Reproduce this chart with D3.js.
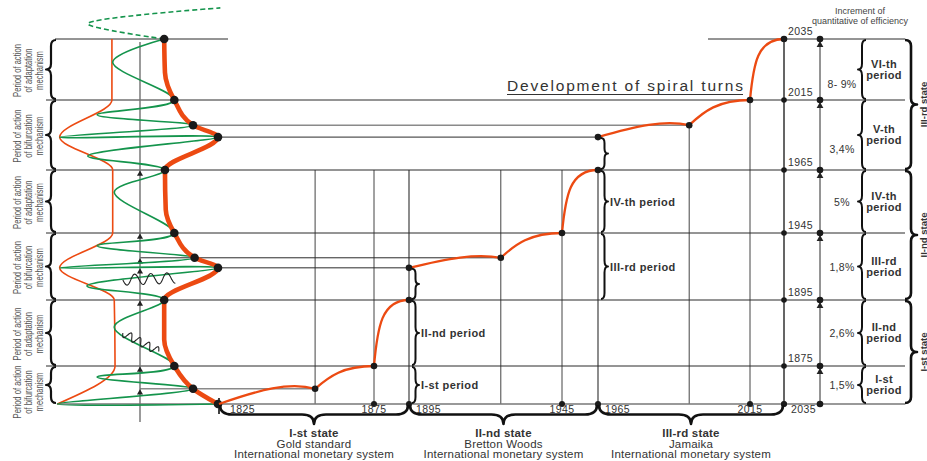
<!DOCTYPE html>
<html>
<head>
<meta charset="utf-8">
<script src="https://cdn.jsdelivr.net/npm/d3@7/dist/d3.min.js"></script>
<style>
  body { margin: 0; background: #fff; }
  svg { display: block; font-family: "Liberation Sans", Arial, sans-serif; }
</style>
</head>
<body>
<svg id="chart" width="927" height="461"></svg>
<script>
// ---------- data ----------
var years = [1825, 1875, 1895, 1945, 1965, 2015, 2035];          // bottom axis
var levelYears = [1825, 1875, 1895, 1945, 1965, 2015, 2035];     // right axis, level 0..6
var periodNames = ["I-st", "II-nd", "III-rd", "IV-th", "V-th", "VI-th"];
var increments = ["1,5%", "2,6%", "1,8%", "5%", "3,4%", "8- 9%"];
var mechanisms = ["bifurcation", "adaptation", "bifurcation", "adaptation", "bifurcation", "adaptation"];
var stateNames = ["I-st state", "II-nd state", "III-rd state"];
var stateSystems = ["Gold standard", "Bretton Woods", "Jamaika"];
var stateYears = [[1825, 1895], [1895, 1965], [1965, 2035]];
var stateLevels = [[0, 2], [2, 4], [4, 6]];

// spiral turns on the time grid: [year, level]
var turns = [
  [[1825, 0], [1856, 0.4], [1875, 1], [1895, 2]],
  [[1895, 2.48], [1925, 2.63], [1945, 3], [1965, 4]],
  [[1965, 4.47], [1995, 4.64], [2015, 5], [2035, 6]]
];

// spiral on the left: [level, amplitude]
var envelopeRight = [[6, 0.31], [5.45, 0.32], [5, 0.44], [4.64, 0.68], [4.47, 1], [4, 0.32],
  [3.37, 0.33], [3, 0.44], [2.63, 0.70], [2.48, 1], [2, 0.31], [1.4, 0.31], [1, 0.44],
  [0.4, 0.68], [0, 1.0]];
var envelopeLeft = [[6, -0.36], [5, -0.36], [4.47, -1.03], [4, -0.35], [3, -0.35],
  [2.48, -1.03], [2, -0.33], [1, -0.32], [0, -1.06]];
var wave = [[6, 0.31], [5.62, -0.35], [5, 0.44], [4.79, -0.55], [4.64, 0.68], [4.47, -1.03],
  [4.47, 1], [4.2, -0.67], [4, 0.32], [3.65, -0.33], [3, 0.44], [2.81, -0.55], [2.63, 0.70],
  [2.48, -1.03], [2.48, 1], [2.21, -0.68], [2, 0.31], [1.59, -0.33], [1, 0.44], [0.71, -0.55],
  [0.4, 0.68], [0, -1.06], [0, 1.0]];
var waveDashed = [[6, 0.31], [6.25, -0.67], [6.51, 1.03]];
var spiralDots = [6, 5, 4.64, 4.47, 4, 3, 2.63, 2.48, 2, 1, 0.4, 0];
var axisArrows = [4, 3, 2.63, 2.48, 2, 1, 0.4];

// ---------- scales ----------
var orange = "#ec4a12", green = "#14944c", ink = "#2b2b2b";
var svg = d3.select("#chart");

var xTime = d3.scaleLinear().domain(years).range([219, 374, 409, 562, 598, 750, 784]);
var yLev = d3.scaleLinear().domain([0, 1, 2, 3, 4, 5, 6]).range([404, 366, 300, 233, 170, 100, 39]);
var xAmp = d3.scaleLinear().domain([-1, 1]).range([62, 218]);

var xAxisR = xTime(2035), xInc = 820, xTableEnd = 905;

function hline(x0, x1, y, color, w) {
  svg.append("line").attr("x1", x0).attr("x2", x1).attr("y1", y).attr("y2", y)
    .attr("stroke", color || ink).attr("stroke-width", w || 1);
}
function vline(x, y0, y1, color, w) {
  svg.append("line").attr("x1", x).attr("x2", x).attr("y1", y0).attr("y2", y1)
    .attr("stroke", color || ink).attr("stroke-width", w || 1);
}
// vertical curly brace, ends at x, tip at x + w
function vBrace(x, y0, y1, w) {
  var ym = (y0 + y1) / 2, h = x + w / 2, t = x + w, r = Math.min(6, (y1 - y0) / 6);
  return "M" + x + "," + y0 + " Q" + h + "," + y0 + " " + h + "," + (y0 + r) +
    " L" + h + "," + (ym - r) + " Q" + h + "," + ym + " " + t + "," + ym +
    " Q" + h + "," + ym + " " + h + "," + (ym + r) +
    " L" + h + "," + (y1 - r) + " Q" + h + "," + y1 + " " + x + "," + y1;
}
function hBrace(x0, x1, y, hgt) {
  var xm = (x0 + x1) / 2, m = y + hgt / 2, t = y + hgt, r = 12;
  return "M" + x0 + "," + y + " Q" + x0 + "," + m + " " + (x0 + r) + "," + m +
    " L" + (xm - r) + "," + m + " Q" + xm + "," + m + " " + xm + "," + t +
    " Q" + xm + "," + m + " " + (xm + r) + "," + m +
    " L" + (x1 - r) + "," + m + " Q" + x1 + "," + m + " " + x1 + "," + y;
}
function brace(d, w) {
  svg.append("path").attr("d", d).attr("fill", "none").attr("stroke", "#111")
    .attr("stroke-width", w || 2).attr("stroke-linejoin", "round");
}

// ---------- grid lines ----------
// vertical lines of the turns
turns.forEach(function(seg, i) {
  seg.slice(1).forEach(function(d) {
    var top = i < 2 ? 4 : Math.max(d[1], 4.64);
    var state = d[0] === 1895 || d[0] === 1965;
    vline(xTime(d[0]), yLev(top), yLev(0), state ? "#808080" : "#444", state ? 1.8 : 1);
  });
});
vline(xTime(1825), yLev(0) - 6, yLev(0) + 10, "#111", 1.6);
vline(xInc, yLev(6), yLev(0), ink, 1);

// period boundaries
d3.range(0, 7).forEach(function(l) {
  var y = yLev(l);
  if (l === 6) { hline(55, 228, y); hline(708, xTableEnd, y); }
  else if (l === 0) hline(57, xTableEnd, y, "#777", 1.4);
  else hline(46, xTableEnd, y);
});
// connectors spiral -> grid
hline(xAmp(0.68), xTime(1995), yLev(4.64), "#8a8a8a", 1.6);
hline(xAmp(1), xTime(1965), yLev(4.47), ink, 1);
hline(xAmp(0), xTime(1925), yLev(2.63), ink, 1);
hline(xAmp(1), xTime(1895), yLev(2.48), ink, 1);
hline(xAmp(0), xTime(1856), yLev(0.4), "#8a8a8a", 1.6);

// spiral axis
vline(xAmp(0), 42, 422, "#707070", 1.4);
svg.selectAll(".axarrow").data(axisArrows).enter().append("path")
  .attr("class", "axarrow")
  .attr("d", d3.symbol(d3.symbolTriangle).size(16))
  .attr("transform", function(d) { return "translate(" + xAmp(0) + "," + (yLev(d) + 4) + ")"; })
  .attr("fill", "#222");

// ---------- spiral ----------
var spLine = d3.line().x(function(d) { return xAmp(d[1]); }).y(function(d) { return yLev(d[0]); });

svg.append("path").attr("d", spLine.curve(d3.curveMonotoneY)(envelopeLeft))
  .attr("fill", "none").attr("stroke", orange).attr("stroke-width", 1.6);
svg.append("path").attr("d", spLine.curve(d3.curveCatmullRom.alpha(0.5))(wave))
  .attr("fill", "none").attr("stroke", green).attr("stroke-width", 1.6);
svg.append("path").attr("d", spLine.curve(d3.curveCatmullRom.alpha(0.5))(waveDashed))
  .attr("fill", "none").attr("stroke", green).attr("stroke-width", 1.6)
  .attr("stroke-dasharray", "5,3");
svg.append("path").attr("d", spLine.curve(d3.curveMonotoneY)(envelopeRight))
  .attr("fill", "none").attr("stroke", orange).attr("stroke-width", 4.6);

// small black oscillations
function wiggle(x0, y0, x1, y1, periods, amp) {
  var dx = x1 - x0, dy = y1 - y0, len = Math.hypot(dx, dy), nx = -dy / len, ny = dx / len;
  var pts = d3.range(0, 1.0001, 1 / (periods * 16)).map(function(t) {
    var s = Math.sin(t * periods * 2 * Math.PI) * amp;
    return [x0 + dx * t + nx * s, y0 + dy * t + ny * s];
  });
  svg.append("path").attr("d", d3.line().curve(d3.curveBasis)(pts))
    .attr("fill", "none").attr("stroke", "#222").attr("stroke-width", 1.1);
}
wiggle(xAmp(-0.22), yLev(2.3), xAmp(0.46), yLev(2.33), 3.3, 5.5);
wiggle(xAmp(-0.22), yLev(1.5), xAmp(0.24), yLev(1.22), 4, 4);

svg.selectAll(".spdot").data(spiralDots).enter().append("circle")
  .attr("class", "spdot")
  .attr("cx", function(l) {
    var p = envelopeRight.filter(function(e) { return e[0] === l; })[0];
    return xAmp(p[1]);
  })
  .attr("cy", function(l) { return yLev(l); })
  .attr("r", 4.3).attr("fill", "#1a1a1a");

// ---------- development of spiral turns ----------
function turnPath(seg) {
  var p = seg.map(function(d) { return [xTime(d[0]), yLev(d[1])]; });
  var a = p[0], b = p[1], c = p[2], e = p[3];
  var d1x = b[0] - a[0], d1y = b[1] - a[1];
  var d2x = c[0] - b[0], d2y = c[1] - b[1];
  var d3x = e[0] - c[0], d3y = e[1] - c[1];
  return "M" + a +
    " C" + [a[0] + 0.42 * d1x, a[1] + 0.93 * d1y] + " " + [a[0] + 0.73 * d1x, a[1] + 1.47 * d1y] + " " + b +
    " C" + [b[0] + 0.24 * d2x, b[1] + 0.55 * d2y] + " " + [b[0] + 0.48 * d2x, b[1] + d2y] + " " + c +
    " C" + [c[0] + 0.1 * d3x, c[1] + 0.6 * d3y] + " " + [c[0] + 0.22 * d3x, c[1] + d3y] + " " + e;
}
turns.forEach(function(seg) {
  svg.append("path").attr("d", turnPath(seg)).attr("fill", "none")
    .attr("stroke", orange).attr("stroke-width", 2.3);
});
var turnDots = [].concat.apply([], turns.map(function(s) { return s.slice(1); }))
  .concat([[1965, 4.47], [1895, 2.48]]);
svg.selectAll(".tdot").data(turnDots).enter().append("circle")
  .attr("cx", function(d) { return xTime(d[0]); })
  .attr("cy", function(d) { return yLev(d[1]); })
  .attr("r", 3.3).attr("fill", "#1a1a1a");

// bottom axis dots + labels
svg.selectAll(".bdot").data(years.slice(1)).enter().append("circle")
  .attr("cx", function(d) { return xTime(d); }).attr("cy", yLev(0)).attr("r", 3).attr("fill", "#1a1a1a");
svg.selectAll(".byear").data(years).enter().append("text")
  .attr("x", function(d, i) { return xTime(d) + (i === 0 ? 11 : i % 2 === 0 ? 7 : 0); })
  .attr("y", yLev(0) + 8.5)
  .attr("text-anchor", function(d, i) { return i === 0 || i % 2 === 0 ? "start" : "middle"; })
  .attr("font-size", 10.5).attr("letter-spacing", 0.4).attr("fill", "#333")
  .text(function(d) { return d; });

// right time axis
vline(xAxisR, yLev(6), yLev(0), ink, 1);
svg.selectAll(".rdot").data(d3.range(0, 7)).enter().append("circle")
  .attr("cx", xAxisR).attr("cy", function(l) { return yLev(l); }).attr("r", 2.8).attr("fill", "#1a1a1a");
svg.selectAll(".ryear").data(levelYears.slice(1)).enter().append("text")
  .attr("x", xAxisR + 4).attr("y", function(d, i) { return yLev(i + 1) - 4; })
  .attr("font-size", 10.5).attr("letter-spacing", 0.4).attr("fill", "#333")
  .text(function(d) { return d; });

// increment axis
svg.selectAll(".idot").data(d3.range(0, 7)).enter().append("circle")
  .attr("cx", xInc).attr("cy", function(l) { return yLev(l); }).attr("r", 3.3).attr("fill", "#1a1a1a");
svg.selectAll(".iarrow").data(d3.range(1, 7)).enter().append("path")
  .attr("d", d3.symbol(d3.symbolTriangle).size(20))
  .attr("transform", function(l) { return "translate(" + xInc + "," + (yLev(l) + 6) + ")"; })
  .attr("fill", "#222");

// ---------- text ----------
svg.append("text").attr("x", 507).attr("y", 91).attr("font-size", 15.5)
  .attr("textLength", 236).attr("lengthAdjust", "spacing").attr("fill", "#333")
  .text("Development of spiral turns");
hline(507, 743, 94.5, "#333", 1.2);

svg.append("text").attr("x", 860).attr("y", 14).attr("text-anchor", "middle")
  .attr("font-size", 9).attr("fill", "#444").text("Increment of");
svg.append("text").attr("x", 860).attr("y", 24).attr("text-anchor", "middle")
  .attr("font-size", 9).attr("fill", "#444").text("quantitative of efficiency");

// table on the right
d3.range(0, 6).forEach(function(i) {
  var y0 = yLev(i + 1), y1 = yLev(i), cy = (y0 + y1) / 2;
  svg.append("text").attr("x", 842).attr("y", cy + 4 + (i >= 4 ? 14 : 0))
    .attr("text-anchor", "middle").attr("font-size", 10.5).attr("letter-spacing", 0.3)
    .attr("fill", "#333").text(increments[i]);
  brace(vBrace(866, y0 + 1, y1 - 1, -8), 2);
  var t = svg.append("text").attr("text-anchor", "middle").attr("font-size", 11)
    .attr("font-weight", "bold").attr("letter-spacing", 0.3).attr("fill", "#333");
  t.append("tspan").attr("x", 884).attr("y", cy - 2).text(periodNames[i]);
  t.append("tspan").attr("x", 884).attr("y", cy + 9).text("period");

  // left: mechanism labels
  brace(vBrace(56, y0 + 1, y1 - 1, -10), 2.2);
  var ly = cy + (y1 - y0 < 50 ? 7 : 1);
  ["Period of action", "of " + mechanisms[i], "mechanism"].forEach(function(s, k) {
    svg.append("text")
      .attr("transform", "translate(" + (21 + 11 * k) + "," + ly + ") rotate(-90) scale(0.76,1)")
      .attr("text-anchor", "middle").attr("font-size", 10).attr("fill", "#555").text(s);
  });
});

// states
stateNames.forEach(function(name, i) {
  var xa = xTime(stateYears[i][0]), xb = xTime(stateYears[i][1]), xm = (xa + xb) / 2;
  brace(hBrace(xa + 1, xb - 1, yLev(0) + 1, 19), 2.6);
  var t = svg.append("text").attr("text-anchor", "middle").attr("font-size", 11.5)
    .attr("letter-spacing", 0.2).attr("fill", "#333");
  t.append("tspan").attr("x", xm).attr("y", 437).attr("font-weight", "bold").text(name);
  t.append("tspan").attr("x", xm).attr("y", 447.5).text(stateSystems[i]);
  t.append("tspan").attr("x", xm).attr("y", 458).text("International monetary system");

  var ya = yLev(stateLevels[i][1]), yb = yLev(stateLevels[i][0]);
  brace(vBrace(xTableEnd, ya + 1, yb - 1, 12), 2.6);
  svg.append("text")
    .attr("transform", "translate(926.5," + ((ya + yb) / 2) + ") rotate(-90)")
    .attr("text-anchor", "middle").attr("font-size", 9.5).attr("font-weight", "bold")
    .attr("fill", "#333").text(name);
});

// period braces inside the grid
function gridPeriod(x, l0, l1, label) {
  var y0 = yLev(l1), y1 = yLev(l0);
  brace(vBrace(x + 3, y0 + 1, y1 - 1, 7), 2);
  if (label) {
    svg.append("text").attr("x", x + 12).attr("y", (y0 + y1) / 2 + 4)
      .attr("font-size", 11).attr("font-weight", "bold").attr("letter-spacing", 0.4)
      .attr("fill", "#333").text(label);
  }
}
gridPeriod(xTime(1895), 0, 1, periodNames[0] + " period");
gridPeriod(xTime(1895), 1, 2, periodNames[1] + " period");
gridPeriod(xTime(1895), 2, 2.48, null);
gridPeriod(xTime(1965), 2, 3, periodNames[2] + " period");
gridPeriod(xTime(1965), 3, 4, periodNames[3] + " period");
gridPeriod(xTime(1965), 4, 4.47, null);
</script>
</body>
</html>
